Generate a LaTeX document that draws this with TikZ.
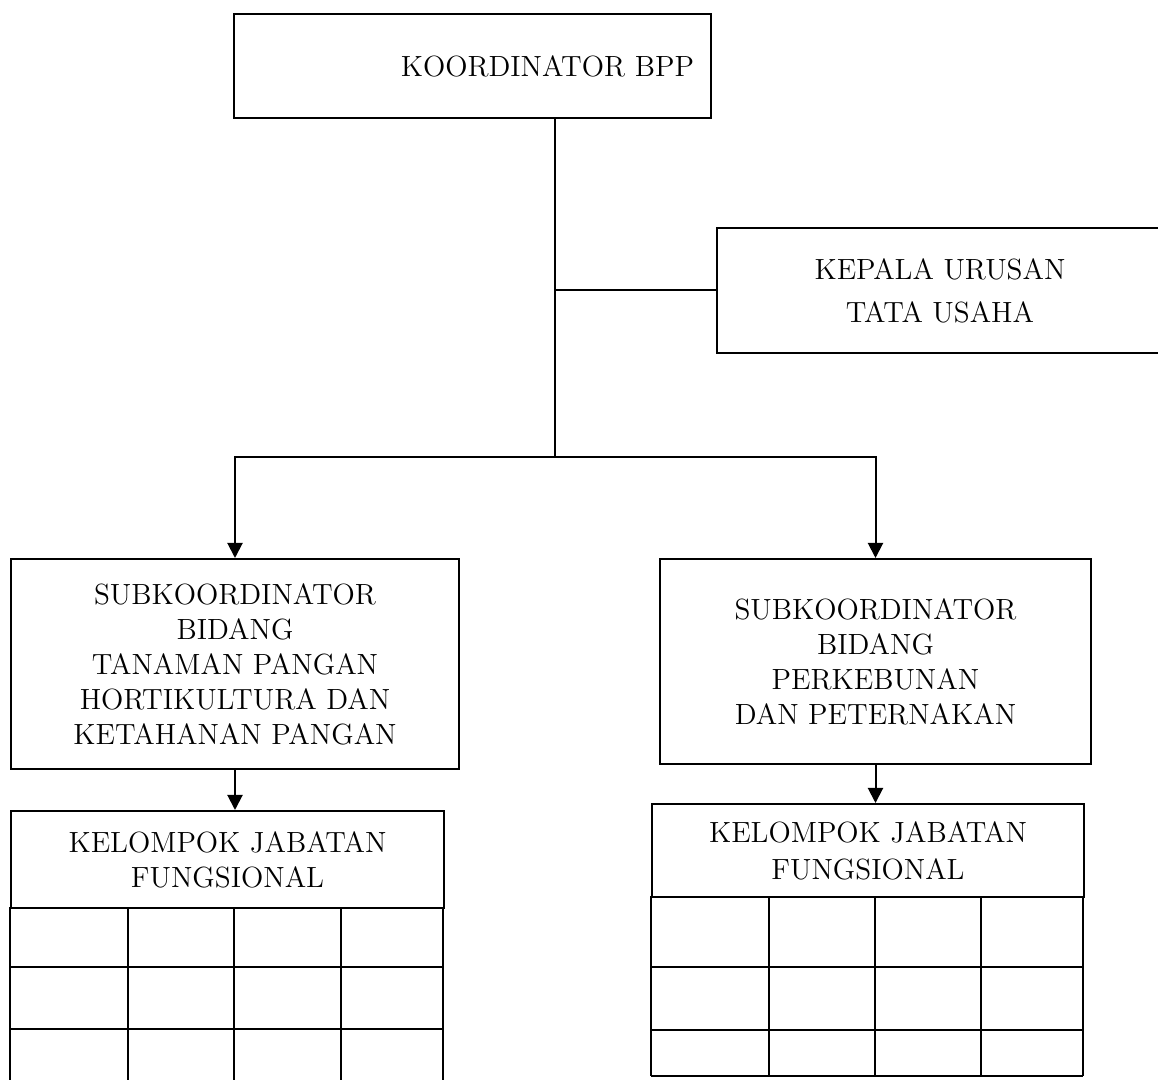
\documentclass[tikz,border=0pt]{standalone}
\usetikzlibrary{arrows.meta,positioning,calc}

\begin{document}
\begin{tikzpicture}[x=0.5pt,y=-0.5pt,line width=1pt,
  font=\fontsize{14.6}{17.5}\selectfont,
  unit/.style={draw,rectangle,align=center,inner sep=0pt,anchor=north west},
  link/.style={-{Triangle[width=7.5pt,length=7.5pt]}}]
  \useasboundingbox (0,0) rectangle (1158,1080);
  % boxes
  \node[unit,minimum width=238.5pt,minimum height=52pt,text width=221.5pt,inner xsep=8.5pt,align=right] (koord) at (233,13) {KOORDINATOR BPP};
  \node[unit,minimum width=223pt,minimum height=62.5pt] (tu) at (716,227) {KEPALA URUSAN\\[4pt]TATA USAHA};
  \node[unit,minimum width=224pt,minimum height=105pt] (subl) at (10,558) {SUBKOORDINATOR\\BIDANG\\TANAMAN PANGAN\\HORTIKULTURA DAN\\KETAHANAN PANGAN};
  \node[unit,minimum width=215.5pt,minimum height=102.5pt] (subr) at (659,558) {SUBKOORDINATOR\\BIDANG\\PERKEBUNAN\\DAN PETERNAKAN};
  \node[unit,minimum width=216.5pt,minimum height=48.5pt] (jfl) at (10,810) {KELOMPOK JABATAN\\FUNGSIONAL};
  \node[unit,minimum width=216pt,minimum height=46.5pt] (jfr) at (651,803) {KELOMPOK JABATAN\\[1pt]FUNGSIONAL};
  % tables under the functional groups
  \foreach \c in {10,128,234,341,443} \draw (\c,907) -- (\c,1082);
  \foreach \r in {967,1029} \draw (10,\r) -- (443,\r);
  \foreach \c in {651,769,875,981,1083} \draw (\c,896) -- (\c,1076);
  \foreach \r in {967,1030,1076} \draw (651,\r) -- (1083,\r);
  % connectors
  \coordinate (split) at (555,457);
  \draw (split |- koord.south) -- (split);
  \draw (split |- tu.west) -- (tu.west);
  \draw[link] (split) -| (subl.north);
  \draw[link] (split) -| (subr.north);
  \draw[link] (subl.south) -- (subl.south |- jfl.north);
  \draw[link] (subr.south) -- (subr.south |- jfr.north);
\end{tikzpicture}
\end{document}
